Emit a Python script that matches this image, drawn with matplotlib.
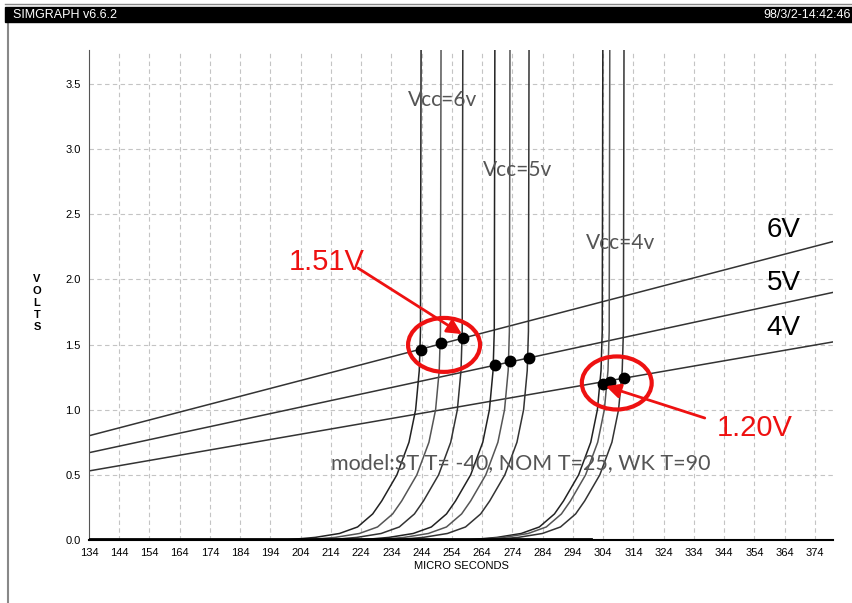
import matplotlib.pyplot as plt
from matplotlib.patches import Ellipse, Rectangle
import matplotlib.lines as mlines

plt.rcParams['font.family'] = ['Liberation Sans', 'DejaVu Sans']

# ramp (threshold) lines: value at t=134 and t=380
ramp_names = ["6V", "5V", "4V"]
ramp_t = [134, 380]
ramp_v = {"6V": [0.80, 2.29], "5V": [0.67, 1.90], "4V": [0.53, 1.52]}

# switching edges: asymptote times per Vcc group
edge_times = {
    "Vcc=6v": [243.8, 250.4, 257.6],
    "Vcc=5v": [268.2, 273.2, 279.5],
    "Vcc=4v": [303.9, 306.2, 310.9],
}
# edge shape: time before asymptote vs volts
edge_dt = [-110, -45, -35, -27, -21, -16, -13, -8, -4, -1.8, -0.6, -0.2, 0.0]
edge_v = [0.0, 0.0, 0.02, 0.05, 0.1, 0.2, 0.3, 0.5, 0.75, 1.0, 1.3, 1.6, 3.8]

# crossing points (dots)
dot_v = {
    "Vcc=6v": [1.46, 1.51, 1.55],
    "Vcc=5v": [1.34, 1.37, 1.40],
    "Vcc=4v": [1.20, 1.21, 1.24],
}

x_ticks = list(range(134, 375, 10))
y_ticks = [0.0, 0.5, 1.0, 1.5, 2.0, 2.5, 3.0, 3.5]

fig = plt.figure(figsize=(8.52, 6.03), dpi=100)
ax = fig.add_axes([89 / 852, 1 - 540 / 603, (833 - 89) / 852, (540 - 50) / 603])
ax.set_xlim(134, 380)
ax.set_ylim(0, 3.76)

# grid
for t in x_ticks[1:]:
    ax.axvline(t, color='#c4c4c4', lw=0.8, ls=(0, (4, 3)), zorder=0)
for v in y_ticks[1:]:
    ax.axhline(v, color='#c4c4c4', lw=0.8, ls=(0, (4, 3)), zorder=0)

# ramps
for name in ramp_names:
    ax.plot(ramp_t, ramp_v[name], color='#333333', lw=1.1, zorder=2)

# edges
edge_colors = ['#222222', '#555555', '#333333']
for group, times in edge_times.items():
    for i, t0 in enumerate(times):
        ts = [max(134, t0 + d) for d in edge_dt]
        ax.plot(ts, edge_v, color=edge_colors[i], lw=1.1, zorder=2)
    ax.plot(times, dot_v[group], 'o', color='black', ms=7.5, zorder=4)

# bottom baseline
ax.plot([134, 300], [0.005, 0.005], color='black', lw=2, zorder=3)

# labels on the chart
stroke = dict(color='#555555', va='center', ha='left', fontweight='normal',
              family=['Lato', 'Liberation Sans', 'DejaVu Sans'])
ax.text(239.5, 3.38, "Vcc=6v", fontsize=15, **stroke)
ax.text(264.2, 2.84, "Vcc=5v", fontsize=15, **stroke)
ax.text(298.3, 2.28, "Vcc=4v", fontsize=15, **stroke)
ax.text(214.0, 0.59, "model:ST T= -40, NOM T=25, WK T=90", fontsize=15.5, **stroke)

for name, v in zip(ramp_names, [2.38, 1.97, 1.63]):
    ax.text(358, v, name, fontsize=20, color='black', va='center', ha='left')

red = '#ee1111'
ax.add_patch(Ellipse((251.4, 1.497), 23.8, 0.414, fill=False, ec=red, lw=3, zorder=5))
ax.add_patch(Ellipse((308.5, 1.205), 23.1, 0.407, fill=False, ec=red, lw=3, zorder=5))
ax.annotate("", xy=(257.3, 1.58), xytext=(222.9, 2.087),
            arrowprops=dict(arrowstyle='-|>', color=red, lw=2, mutation_scale=22,
                            shrinkA=0, shrinkB=0), zorder=6)
ax.annotate("", xy=(304.9, 1.18), xytext=(337.6, 0.936),
            arrowprops=dict(arrowstyle='-|>', color=red, lw=2, mutation_scale=22,
                            shrinkA=0, shrinkB=0), zorder=6)
ax.text(212.7, 2.13, "1.51V", fontsize=21, color=red, ha='center', va='center')
ax.text(354.2, 0.86, "1.20V", fontsize=21, color=red, ha='center', va='center')

# axes styling
ax.set_xticks(x_ticks)
ax.set_yticks(y_ticks)
ax.set_yticklabels([f"{v:.1f}" for v in y_ticks])
ax.tick_params(length=0, labelsize=8, pad=6)
for s in ['top', 'right']:
    ax.spines[s].set_visible(False)
ax.spines['left'].set_color('#555555')
ax.spines['bottom'].set_color('black')
ax.spines['bottom'].set_linewidth(1.5)
ax.set_xlabel("MICRO SECONDS", fontsize=8, labelpad=2)
fig.text(37 / 852, 1 - 303 / 603, "V\nO\nL\nT\nS", fontsize=8, ha='center', va='center',
         linespacing=1.25, fontweight='bold')

# window frame and title bar
fig.add_artist(Rectangle((5 / 852, 1 - 22 / 603), 1, 15 / 603, transform=fig.transFigure,
                         color='black', zorder=10))
fig.add_artist(mlines.Line2D([8 / 852, 8 / 852], [0, 1 - 22 / 603], color='#888888', lw=1.5,
                             transform=fig.transFigure))
fig.add_artist(mlines.Line2D([5 / 852, 1], [1 - 4 / 603, 1 - 4 / 603], color='#888888', lw=1,
                             transform=fig.transFigure))
fig.text(13 / 852, 1 - 14.5 / 603, "SIMGRAPH v6.6.2", color='white', fontsize=9,
         va='center', ha='left', zorder=11)
fig.text(851 / 852, 1 - 14.5 / 603, "98/3/2-14:42:46", color='white', fontsize=9,
         va='center', ha='right', zorder=11)

fig.savefig("out.png", dpi=100)
